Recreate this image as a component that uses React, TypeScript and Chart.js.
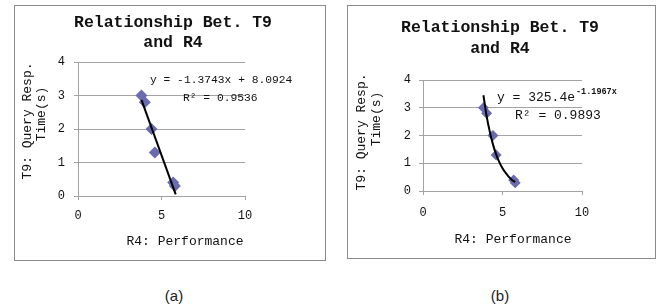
import React, { useEffect, useRef } from "react";
import { Chart, registerables } from "chart.js";

Chart.register(...registerables);

// ---- data ----
const perfX = [3.8, 4.0, 4.4, 4.6, 5.7, 5.8];
const respY = [3.0, 2.8, 2.0, 1.3, 0.4, 0.3];
const linTrendX = [3.8, 5.85];
const linTrendY = [2.87, 0.05];
const expTrendX = [3.8, 4.0, 4.2, 4.4, 4.6, 4.8, 5.0, 5.2, 5.4, 5.6, 5.8];
const expTrendY = [3.45, 2.71, 2.14, 1.68, 1.32, 1.04, 0.82, 0.65, 0.51, 0.4, 0.32];
const xTicks = [0, 5, 10];
const yTicks = [0, 1, 2, 3, 4];
const titleLines = ["Relationship Bet. T9", "and R4"];
const yTitleLines = ["T9: Query Resp.", "Time(s)"];
const xTitle = "R4: Performance";
const eqA = "y = -1.3743x + 8.0924";
const r2A = "R\u00B2 = 0.9536";
const eqBBase = "y = 325.4e";
const eqBExp = "-1.1967x";
const r2B = "R\u00B2 = 0.9893";
const panelLabels = ["(a)", "(b)"];

const MONO = "'Liberation Mono', 'DejaVu Sans Mono', monospace";
const TEXT = "#111";
const GRID = "#a3a3a3";
const MARKER = "#6b6bb0";

type Cfg = {
  left: number; top: number; width: number; height: number;
  plot: { l: number; t: number; r: number; b: number };
  tickSize: number; padX: number; padY: number;
  title: { cx: number; b1: number; b2: number; size: number };
  yTitle: { x1: number; c1: number; x2: number; c2: number; size: number };
  xTitle: { cx: number; b: number; size: number };
  trendX: number[]; trendY: number[]; tension: number;
  radius: number;
  annotate: (ctx: CanvasRenderingContext2D, area: any) => void;
};

const cfgA: Cfg = {
  left: 14, top: 5, width: 312, height: 256,
  plot: { l: 64, t: 57, r: 231, b: 191 },
  tickSize: 12, padX: 9, padY: 9,
  title: { cx: 159, b1: 22, b2: 42, size: 16.5 },
  yTitle: { x1: 14, c1: 116, x2: 28, c2: 109, size: 13 },
  xTitle: { cx: 171, b: 240, size: 13 },
  trendX: linTrendX, trendY: linTrendY, tension: 0,
  radius: 6,
  annotate: (ctx, a) => {
    ctx.font = `11.3px ${MONO}`;
    ctx.textBaseline = "middle";
    ctx.textAlign = "left";
    ctx.fillText(eqA, a.left + 72, a.top + 18);
    ctx.fillText(r2A, a.left + 105, a.top + 36);
  },
};

const cfgB: Cfg = {
  left: 347, top: 5, width: 309, height: 254,
  plot: { l: 76, t: 75, r: 235, b: 186 },
  tickSize: 12, padX: 11, padY: 8,
  title: { cx: 153, b1: 26.5, b2: 48, size: 16.5 },
  yTitle: { x1: 15, c1: 127, x2: 30, c2: 114, size: 13 },
  xTitle: { cx: 166, b: 238, size: 13 },
  trendX: expTrendX, trendY: expTrendY, tension: 0.4,
  radius: 5.5,
  annotate: (ctx, a) => {
    ctx.textBaseline = "alphabetic";
    ctx.textAlign = "left";
    ctx.font = `13px ${MONO}`;
    const x0 = a.left + 74;
    const y0 = a.top + 21;
    ctx.fillText(eqBBase, x0, y0);
    const w = ctx.measureText(eqBBase).width;
    ctx.font = `bold 8.5px ${MONO}`;
    ctx.fillText(eqBExp, x0 + w + 1, y0 - 7);
    ctx.font = `13px ${MONO}`;
    ctx.fillText(r2B, a.left + 92, a.top + 39);
  },
};

function makePlugin(cfg: Cfg) {
  return {
    id: "decor",
    beforeDraw(chart: any) {
      const ctx = chart.ctx as CanvasRenderingContext2D;
      ctx.save();
      ctx.fillStyle = "#fff";
      ctx.fillRect(0, 0, chart.width, chart.height);
      ctx.restore();
    },
    afterDraw(chart: any) {
      const ctx = chart.ctx as CanvasRenderingContext2D;
      const a = chart.chartArea;
      ctx.save();
      // border
      ctx.strokeStyle = "#8a8a8a";
      ctx.lineWidth = 1;
      ctx.strokeRect(0.5, 0.5, chart.width - 1, chart.height - 1);
      ctx.fillStyle = TEXT;
      // title
      ctx.font = `bold ${cfg.title.size}px ${MONO}`;
      ctx.textAlign = "center";
      ctx.textBaseline = "alphabetic";
      ctx.fillText(titleLines[0], cfg.title.cx, cfg.title.b1);
      ctx.fillText(titleLines[1], cfg.title.cx, cfg.title.b2);
      // x title
      ctx.font = `${cfg.xTitle.size}px ${MONO}`;
      ctx.fillText(xTitle, cfg.xTitle.cx, cfg.xTitle.b);
      // y title (rotated)
      ctx.font = `${cfg.yTitle.size}px ${MONO}`;
      ctx.textBaseline = "middle";
      const ys = [
        [cfg.yTitle.x1, cfg.yTitle.c1],
        [cfg.yTitle.x2, cfg.yTitle.c2],
      ];
      yTitleLines.forEach((t, i) => {
        ctx.save();
        ctx.translate(ys[i][0], ys[i][1]);
        ctx.rotate(-Math.PI / 2);
        ctx.fillText(t, 0, 0);
        ctx.restore();
      });
      cfg.annotate(ctx, a);
      ctx.restore();
    },
  };
}

function Panel({ cfg }: { cfg: Cfg }) {
  const ref = useRef<HTMLCanvasElement>(null);
  useEffect(() => {
    const canvas = ref.current!;
    const chart = new Chart(canvas, {
      type: "scatter",
      data: {
        datasets: [
          {
            type: "line",
            data: cfg.trendX.map((x, i) => ({ x, y: cfg.trendY[i] })),
            borderColor: "#000",
            borderWidth: 2,
            pointRadius: 0,
            tension: cfg.tension,
            cubicInterpolationMode: cfg.tension ? "monotone" : "default",
            fill: false,
            order: 0,
          } as any,
          {
            data: perfX.map((x, i) => ({ x, y: respY[i] })),
            pointStyle: "rectRot",
            pointRadius: cfg.radius,
            backgroundColor: MARKER,
            borderColor: MARKER,
            borderWidth: 0,
            order: 1,
          } as any,
        ],
      },
      options: {
        responsive: false,
        animation: false,
        devicePixelRatio: 1,
        layout: {
          padding: {
            left: 0,
            top: cfg.plot.t,
            right: cfg.width - cfg.plot.r,
            bottom: 0,
          },
        },
        plugins: {
          legend: { display: false },
          title: { display: false },
          tooltip: { enabled: false },
        },
        scales: {
          x: {
            type: "linear",
            min: xTicks[0],
            max: xTicks[xTicks.length - 1],
            afterBuildTicks: (s: any) => {
              s.ticks = xTicks.map((v) => ({ value: v }));
            },
            afterFit: (s: any) => {
              s.height = cfg.height - cfg.plot.b;
            },
            grid: {
              display: true,
              drawOnChartArea: false,
              drawTicks: true,
              tickLength: 4,
              color: GRID,
            },
            border: { display: true, color: GRID },
            ticks: {
              color: TEXT,
              padding: cfg.padX,
              maxRotation: 0,
              font: { family: MONO, size: cfg.tickSize },
            },
          },
          y: {
            type: "linear",
            min: yTicks[0],
            max: yTicks[yTicks.length - 1],
            afterBuildTicks: (s: any) => {
              s.ticks = yTicks.map((v) => ({ value: v }));
            },
            afterFit: (s: any) => {
              s.width = cfg.plot.l;
            },
            grid: {
              display: true,
              drawTicks: true,
              tickLength: 4,
              color: GRID,
            },
            border: { display: true, color: GRID },
            ticks: {
              color: TEXT,
              padding: cfg.padY,
              font: { family: MONO, size: cfg.tickSize },
            },
          },
        },
      } as any,
      plugins: [makePlugin(cfg) as any],
    });
    return () => chart.destroy();
  }, [cfg]);
  return (
    <canvas
      ref={ref}
      width={cfg.width}
      height={cfg.height}
      style={{
        position: "absolute",
        left: cfg.left,
        top: cfg.top,
        width: cfg.width,
        height: cfg.height,
      }}
    />
  );
}

export default function App() {
  const labelStyle = (cx: number): React.CSSProperties => ({
    position: "absolute",
    left: cx - 30,
    width: 60,
    top: 286,
    textAlign: "center",
    fontFamily: "'Liberation Sans', Arial, sans-serif",
    fontSize: 15,
    lineHeight: "20px",
    color: "#222",
  });
  return (
    <div
      style={{
        position: "absolute",
        left: 0,
        top: 0,
        width: 659,
        height: 307,
        background: "#fff",
        overflow: "hidden",
      }}
    >
      <Panel cfg={cfgA} />
      <Panel cfg={cfgB} />
      <div style={labelStyle(174)}>{panelLabels[0]}</div>
      <div style={labelStyle(500)}>{panelLabels[1]}</div>
    </div>
  );
}
